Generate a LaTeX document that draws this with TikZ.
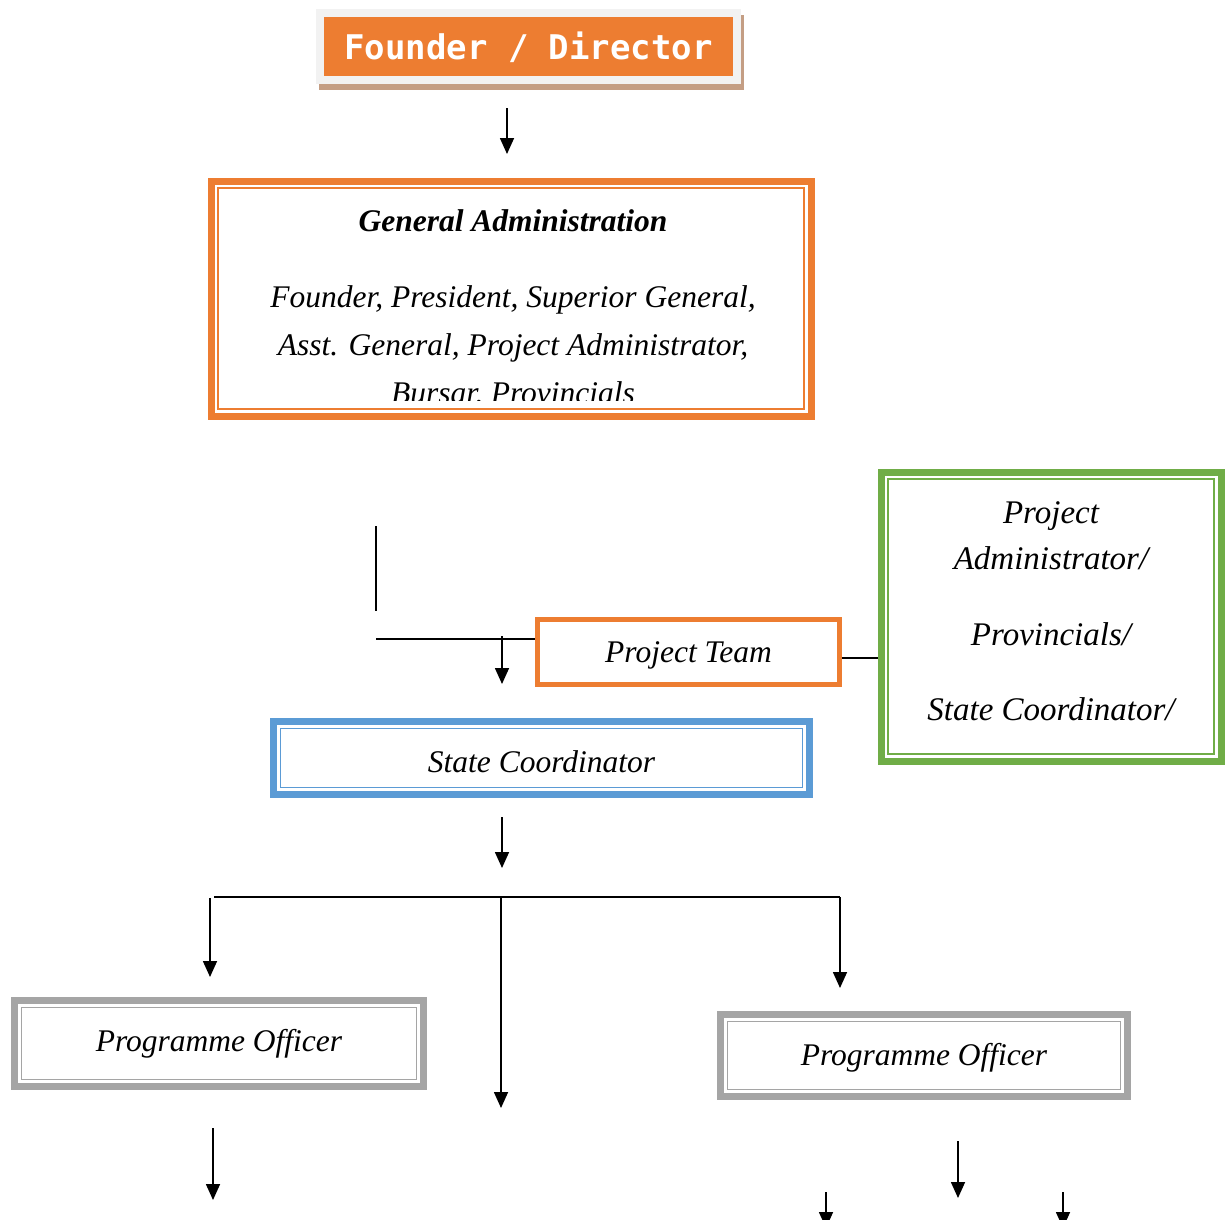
\documentclass[tikz,border=0pt]{standalone}
\usepackage{fontspec}
\setmainfont{Liberation Serif}
\newfontfamily\monobold{DejaVu Sans Mono}
\usetikzlibrary{arrows.meta,shadows}

\definecolor{boxorange}{HTML}{ED7D31}
\definecolor{boxgreen}{HTML}{70AD47}
\definecolor{boxblue}{HTML}{5B9BD5}
\definecolor{boxgray}{HTML}{A5A5A5}
\definecolor{framegray}{HTML}{F2F2F2}
\definecolor{shadowbrown}{HTML}{C49E84}

\begin{document}
\begin{tikzpicture}[
  x=1pt, y=-1pt,
  >={Triangle[length=16pt,width=14pt]},
  line/.style={draw, line width=1.6pt},
  arrow/.style={line, ->},
  framed/.style={rectangle, draw=#1, line width=7pt, inner sep=0pt,
    path picture={\draw[#1, line width=1.6pt]
      ([shift={(7pt,-7pt)}]path picture bounding box.north west) rectangle
      ([shift={(-7pt,7pt)}]path picture bounding box.south east);}},
  itext/.style={font=\fontsize{31.5}{48}\selectfont\itshape, align=center},
  bigtext/.style={font=\fontsize{33}{46}\selectfont\itshape, align=center},
  founderbox/.style={rectangle, fill=boxorange, draw=framegray, line width=8pt,
    minimum width=417pt, minimum height=67pt, inner sep=0pt, text=white,
    text depth=0pt,
    font=\monobold\bfseries\fontsize{34}{40}\selectfont,
    general shadow={fill=shadowbrown, draw=shadowbrown, line width=8pt,
      shadow xshift=2.5pt, shadow yshift=-6pt}}
]
\useasboundingbox (0,0) rectangle (1225,1219);

\node[founderbox] (founder) at (528.5,46) {Founder / Director};
\node[framed=boxorange, minimum width=600pt, minimum height=235pt] (gadmin) at (511,298.5) {};
\begin{scope}
  \clip (220,186) rectangle (802,400);
  \node[itext] (gatext) at (513,309) {\textbf{General Administration}\\[28pt]
    Founder, President, Superior General,\\
    Asst. General, Project Administrator,\\
    Bursar, Provincials};
\end{scope}
\node[rectangle, draw=boxorange, line width=5pt, minimum width=302pt, minimum height=65pt, itext, text depth=0pt] (projteam) at (688.5,652) {Project Team};
\node[framed=boxgreen, minimum width=340pt, minimum height=289pt, bigtext] (padmin) at (1051,616.5)
  {Project\\Administrator/\\[30pt]Provincials/\\[29pt]State Coordinator/\rule[-11pt]{0pt}{0pt}};
\node[framed=boxblue, minimum width=536pt, minimum height=73pt, itext, text height=29pt, text depth=0pt] (statecoord) at (541.5,758) {State Coordinator};
\node[framed=boxgray, minimum width=409pt, minimum height=86pt, itext] (pofficer1) at (219,1043.5) {Programme Officer};
\node[framed=boxgray, minimum width=407pt, minimum height=82pt, itext, text depth=3pt] (pofficer2) at (924,1055.5) {Programme Officer};

\coordinate (fd1) at (507,108);   \coordinate (fd2) at (507,154);
\coordinate (stub1) at (376,526); \coordinate (stub2) at (376,611);
\coordinate (ptleft) at (376,639);
\coordinate (ptright) at (880,658);
\coordinate (pt1) at (502,636);   \coordinate (pt2) at (502,684);
\coordinate (sc1) at (502,817);   \coordinate (sc2) at (502,868);
\coordinate (busl) at (214,897);  \coordinate (busr) at (840,897);
\coordinate (b1a) at (210,898);   \coordinate (b1b) at (210,977);
\coordinate (b2a) at (501,897);   \coordinate (b2b) at (501,1108);
\coordinate (b3b) at (840,988);
\coordinate (po1a) at (213,1128); \coordinate (po1b) at (213,1200);
\coordinate (po2a) at (958,1141); \coordinate (po2b) at (958,1198);
\coordinate (po3a) at (826,1192); \coordinate (po3b) at (826,1228);
\coordinate (po4a) at (1063,1192); \coordinate (po4b) at (1063,1228);

\path[arrow] (fd1) -- (fd2);
\path[line] (stub1) -- (stub2);
\path[line] (ptleft) -- (ptleft -| projteam.west);
\path[arrow] (pt1) -- (pt2);
\path[line] (projteam.east |- ptright) -- (padmin.west |- ptright);
\path[arrow] (sc1) -- (sc2);
\path[line] (busl) -- (busr);
\path[arrow] (b1a) -- (b1b);
\path[arrow] (b2a) -- (b2b);
\path[arrow] (busr) -- (b3b);
\path[arrow] (po1a) -- (po1b);
\path[arrow] (po2a) -- (po2b);
\path[arrow] (po3a) -- (po3b);
\path[arrow] (po4a) -- (po4b);

\end{tikzpicture}
\end{document}
